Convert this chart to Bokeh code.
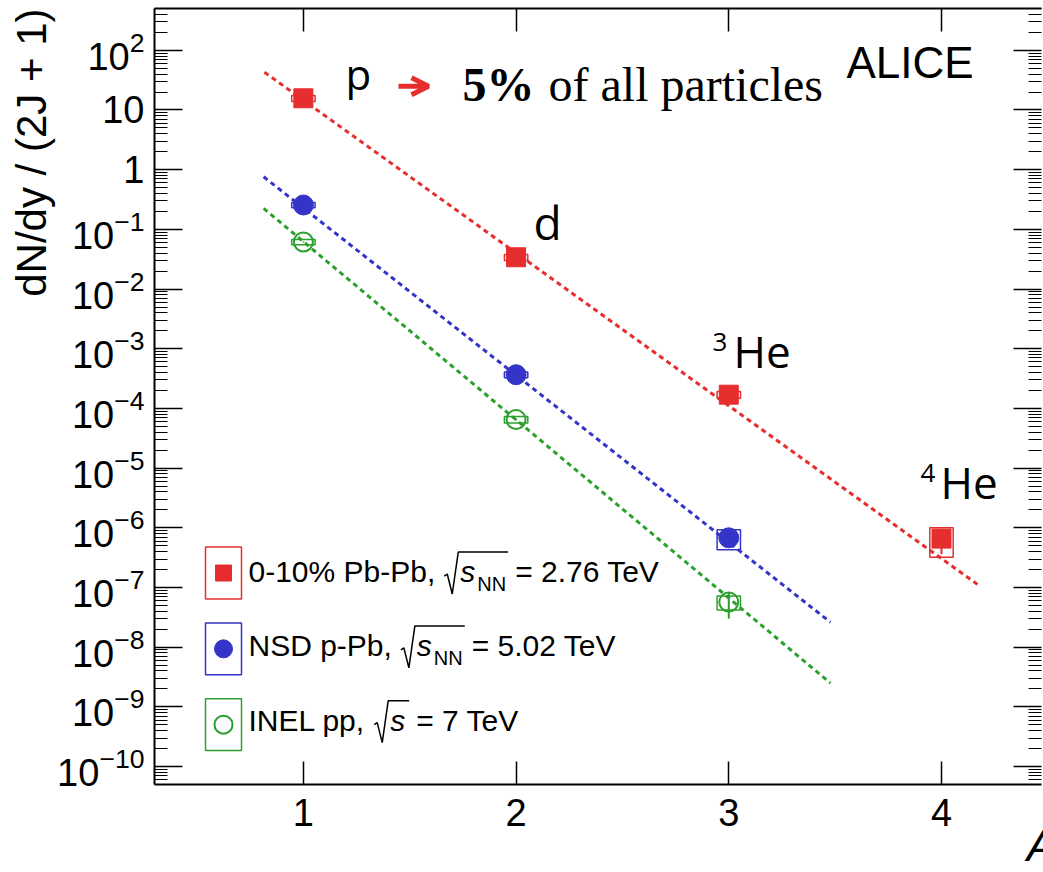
from bokeh.embed import file_html
from bokeh.models import (Arrow, CustomJSTickFormatter, FixedTicker, Label,
                          LinearAxis, LogAxis, LogTickFormatter, OpenHead, Title)
from bokeh.plotting import figure
from bokeh.resources import INLINE

# ---------------------------------------------------------------------------
# Yields per spin state dN/dy / (2J+1) versus mass number A
# ---------------------------------------------------------------------------
A_PBPB = [1, 2, 3, 4]
Y_PBPB = [15.7, 0.0341, 1.70e-4, 6.6e-7]
STAT_PBPB = [0.3, 0.0008, 0.08e-4, 3.0e-7]
SYS_PBPB = [1.8, 0.004, 2.2e-5, 3.4e-7]

A_PPB = [1, 2, 3]
Y_PPB = [0.256, 3.67e-4, 6.8e-7]
STAT_PPB = [0.003, 0.8e-5, 1.0e-7]
SYS_PPB = [0.025, 4.0e-5, 2.5e-7]

A_PP = [1, 2, 3]
Y_PP = [0.0615, 6.5e-5, 5.7e-8]
STAT_PP = [0.001, 2.0e-6, 2.7e-8]
SYS_PP = [0.006, 8.0e-6, 1.5e-8]

# exponential fits: end points of each straight line on the log scale
FIT_A_PBPB = [0.817, 4.169]
FIT_Y_PBPB = [42.9, 1.13e-7]
FIT_A_PPB = [0.813, 3.478]
FIT_Y_PPB = [0.760, 2.62e-8]
FIT_A_PP = [0.813, 3.478]
FIT_Y_PP = [0.225, 2.5e-9]

X_TICKS = [1, 2, 3, 4]
Y_DECADES = list(range(-10, 3))
Y_TICK_OVERRIDES = {1: "1", 10: "10"}

LEGEND_PREFIX = ["0-10% Pb-Pb,", "NSD p-Pb,", "INEL pp,"]
LEGEND_SUB = ["NN", "NN", ""]
LEGEND_SUFFIX = ["= 2.76 TeV", "= 5.02 TeV", "= 7 TeV"]

RED = "#e62e2e"
BLUE = "#3434c8"
GREEN = "#2ca02c"

# ---------------------------------------------------------------------------
# canvas / frame geometry
# ---------------------------------------------------------------------------
W, H = 1043, 872
FL, FR, FT, FB = 154, 1041, 8, 786
X0 = 0.3
PX_PER_A = 212.7
X1 = X0 + (FR - FL) / PX_PER_A
LOG_BOT, LOG_TOP = -10.3, 2.7


def dx(px):
    return X0 + (px - FL) / PX_PER_A


def dy(py):
    return 10 ** (LOG_TOP - (py - FT) * (LOG_TOP - LOG_BOT) / (FB - FT))


# Arial / Liberation Sans advance widths (em) for layout of composed labels
ADV = {' ': 0.278, '(': 0.333, ')': 0.333, '+': 0.584, ',': 0.278, '-': 0.333,
       '.': 0.278, '/': 0.278, '0': 0.556, '1': 0.556, '2': 0.556, '5': 0.556,
       '6': 0.556, '7': 0.556, '%': 0.889, '=': 0.584, 'D': 0.722, 'E': 0.667,
       'I': 0.278, 'J': 0.5, 'L': 0.556, 'N': 0.722, 'P': 0.667, 'S': 0.667,
       'T': 0.611, 'V': 0.667, 'b': 0.556, 'd': 0.556, 'e': 0.556, 'p': 0.556,
       's': 0.5, 'y': 0.5}


def text_w(s, size):
    return sum(ADV.get(c, 0.556) for c in s) * size


p = figure(width=W, height=H, x_range=(X0, X1),
           y_range=(10 ** LOG_BOT, 10 ** LOG_TOP), y_axis_type="log",
           output_backend="svg", toolbar_location=None,
           min_border_left=FL, min_border_right=W - FR,
           min_border_top=FT, min_border_bottom=H - FB)
p.grid.visible = False
p.outline_line_color = None
p.background_fill_color = "white"
p.border_fill_color = "white"

y_ticker = FixedTicker(
    ticks=[10.0 ** k for k in Y_DECADES],
    minor_ticks=[m * 10.0 ** k for k in range(Y_DECADES[0] - 1, Y_DECADES[-1] + 1)
                 for m in range(2, 10)])
x_ticker = FixedTicker(ticks=X_TICKS)
blank = CustomJSTickFormatter(code="return ''")


def style_axis(ax, major_in, minor_in):
    ax.major_tick_in = major_in
    ax.major_tick_out = 0
    ax.minor_tick_in = minor_in
    ax.minor_tick_out = 0
    ax.axis_line_color = "black"
    ax.axis_line_width = 2
    ax.major_tick_line_color = "black"
    ax.major_tick_line_width = 1.5
    ax.minor_tick_line_color = "black"
    ax.minor_tick_line_width = 1.2
    ax.major_label_text_font = "Liberation Sans"
    ax.major_label_text_font_size = "38px"
    ax.major_label_text_color = "black"


xb = p.xaxis[0]
xb.ticker = x_ticker
style_axis(xb, 23, 0)
xb.major_label_standoff = 14
xb.axis_label = "A"
xb.axis_label_text_font = "Liberation Sans"
xb.axis_label_text_font_style = "italic"
xb.axis_label_text_font_size = "44px"
xb.axis_label_text_color = "black"
xb.axis_label_standoff = -8
try:
    xb.axis_label_align = "end"
except AttributeError:
    pass

yl = p.yaxis[0]
yl.ticker = y_ticker
yl.formatter = LogTickFormatter()
yl.major_label_overrides = Y_TICK_OVERRIDES
style_axis(yl, 28, 13)
yl.major_label_standoff = 10

# y title, placed against the top end of the axis
ytitle = Title(text="dN/dy / (2J + 1)", align="right", text_font="Liberation Sans",
               text_font_size="42px", text_font_style="normal", text_color="black")
try:
    ytitle.standoff = 0
except AttributeError:
    pass
p.add_layout(ytitle, "left")

# frame edges opposite the labelled axes carry ticks only
xt = LinearAxis(ticker=x_ticker, formatter=blank)
style_axis(xt, 23, 0)
xt.major_label_text_font_size = "1px"
xt.major_label_standoff = 0
p.add_layout(xt, "above")

yr = LogAxis(ticker=y_ticker, formatter=blank)
style_axis(yr, 28, 13)
yr.axis_line_color = None
yr.major_label_text_font_size = "1px"
yr.major_label_standoff = 0
p.add_layout(yr, "right")

# ---------------------------------------------------------------------------
# fits, systematic boxes, statistical bars and markers
# ---------------------------------------------------------------------------
for fa, fy, col in [(FIT_A_PBPB, FIT_Y_PBPB, RED), (FIT_A_PPB, FIT_Y_PPB, BLUE),
                    (FIT_A_PP, FIT_Y_PP, GREEN)]:
    p.line(fa, fy, line_color=col, line_width=3, line_dash="5 4")

BOX_HALF = 0.055
for a, y, st, sy, col in [(A_PBPB, Y_PBPB, STAT_PBPB, SYS_PBPB, RED),
                          (A_PPB, Y_PPB, STAT_PPB, SYS_PPB, BLUE),
                          (A_PP, Y_PP, STAT_PP, SYS_PP, GREEN)]:
    p.quad(left=[v - BOX_HALF for v in a], right=[v + BOX_HALF for v in a],
           bottom=[v - s for v, s in zip(y, sy)], top=[v + s for v, s in zip(y, sy)],
           fill_color=None, line_color=col, line_width=1.5)
    p.segment(x0=a, x1=a, y0=[v - s for v, s in zip(y, st)],
              y1=[v + s for v, s in zip(y, st)], line_color=col, line_width=2)

p.scatter(A_PBPB, Y_PBPB, marker="square", size=19, color=RED)
p.scatter(A_PPB, Y_PPB, marker="circle", size=20, color=BLUE)
p.scatter(A_PP, Y_PP, marker="circle", size=19, fill_color=None,
          line_color=GREEN, line_width=2)


# ---------------------------------------------------------------------------
# text helpers (y given as the vertical centre of the capitals)
# ---------------------------------------------------------------------------
def label(text, px, py, size, font="Liberation Sans", style="normal",
          color="black", align="left"):
    p.add_layout(Label(x=dx(px), y=dy(py), text=text,
                       text_font=font, text_font_size=f"{size}px",
                       text_font_style=style, text_color=color,
                       text_align=align, text_baseline="middle"))


# legend
LEG_COLORS = [RED, BLUE, GREEN]
LEG_MARKERS = ["square", "circle", "circle"]
LEG_CY = [574, 650, 726]
LEG_BASE = [583, 657, 732]
LEG_FS = 30
for i in range(3):
    cy = LEG_CY[i]
    col = LEG_COLORS[i]
    p.quad(left=[dx(205)], right=[dx(241)], top=[dy(cy - 26)], bottom=[dy(cy + 26)],
           fill_color=None, line_color=col, line_width=1.5)
    if i == 2:
        p.scatter([dx(223)], [dy(cy)], marker="circle", size=18, fill_color=None,
                  line_color=col, line_width=2)
    else:
        p.scatter([dx(223)], [dy(cy)], marker=LEG_MARKERS[i],
                  size=16 if i == 0 else 18, color=col)
    base = LEG_BASE[i]
    mid = base - 10.5
    x = 248
    label(LEGEND_PREFIX[i], x, mid, LEG_FS)
    x += text_w(LEGEND_PREFIX[i], LEG_FS) + 9
    sx = x + 16
    label("s", sx, mid, LEG_FS, style="italic")
    end = sx + text_w("s", LEG_FS) + 2
    if LEGEND_SUB[i]:
        label(LEGEND_SUB[i], end, base + 2, 20)
        end = end + text_w(LEGEND_SUB[i], 20)
    # square-root sign stroked over s (and its subscript)
    rx = [x, x + 3, x + 8, x + 14, end + 2]
    ry = [base - 6, base - 8, base + 12, base - 30, base - 30]
    p.line([dx(v) for v in rx], [dy(v) for v in ry], line_color="black",
           line_width=1.5)
    label(LEGEND_SUFFIX[i], end + 9, mid, LEG_FS)

# experiment tag
label("ALICE", 846, 62, 44)

# particle labels
label("p", 345, 73, 42, font="Open Sans")
p.add_layout(Arrow(x_start=dx(398), y_start=dy(86), x_end=dx(428), y_end=dy(86),
                   line_color=RED, line_width=5,
                   end=OpenHead(size=17, line_color=RED, line_width=5)))
label("5%", 462, 84, 48, font="Liberation Serif", style="bold")
label("of all particles", 548, 84, 48, font="Liberation Serif")
label("d", 533, 222, 46, font="Open Sans")
label("3", 712, 342, 26, font="Open Sans")
label("He", 733, 351, 44, font="Open Sans")
label("4", 920, 474, 26, font="Open Sans")
label("He", 940, 483, 44, font="Open Sans")

open("out.html", "w").write(file_html(p, INLINE))
